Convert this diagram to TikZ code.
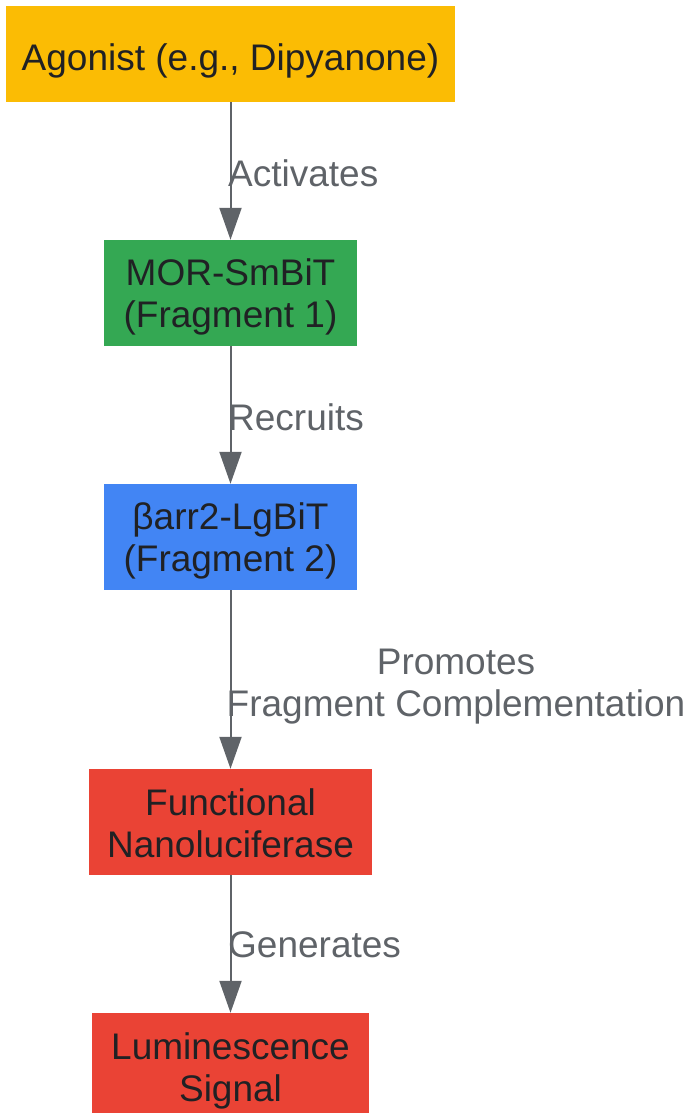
\documentclass[tikz,border=0pt]{standalone}
\usepackage{fontspec}
\setmainfont{Liberation Sans}
\usetikzlibrary{arrows.meta}
\definecolor{cyellow}{HTML}{FBBC04}
\definecolor{cgreen}{HTML}{34A853}
\definecolor{cblue}{HTML}{4285F4}
\definecolor{cred}{HTML}{EA4335}
\definecolor{ctext}{HTML}{202124}
\definecolor{cgray}{HTML}{5F6368}
\begin{document}
\begin{tikzpicture}[x=1pt,y=-1pt,
  box/.style={rectangle, inner sep=0pt},
  txt/.style={inner sep=0pt, align=center, text=ctext, anchor=base,
    font=\fontsize{37}{42}\selectfont},
  lbl/.style={inner sep=0pt, text=cgray, font=\fontsize{37}{42}\selectfont},
  arr/.style={draw=cgray, line width=2pt, -{Triangle[length=32pt,width=22pt]}}]
\useasboundingbox (0,0) rectangle (691,1114);
\node[box, fill=cyellow, minimum width=449pt, minimum height=96pt] (n1) at (230.5,54) {};
\node[box, fill=cgreen, minimum width=253pt, minimum height=106pt] (n2) at (230.5,293) {};
\node[box, fill=cblue, minimum width=253pt, minimum height=106pt] (n3) at (230.5,537) {};
\node[box, fill=cred, minimum width=283pt, minimum height=106pt] (n4) at (230.5,822) {};
\node[box, fill=cred, minimum width=277pt, minimum height=100pt] (n5) at (230.5,1063) {};
\node[txt] (t1) at (230.5,70) {Agonist (e.g., Dipyanone)};
\node[txt] (t2) at (230.5,327) {MOR-SmBiT\\(Fragment 1)};
\node[txt] (t3) at (230.5,571) {βarr2-LgBiT\\(Fragment 2)};
\node[txt] (t4) at (230.5,857) {Functional\\Nanoluciferase};
\node[txt] (t5) at (230.5,1101) {Luminescence\\Signal};
\draw[arr] (n1) -- (n2);
\draw[arr] (n2) -- (n3);
\draw[arr] (n3) -- (n4);
\draw[arr] (n4) -- (n5);
\node[lbl, anchor=west] (l1) at (228,173) {Activates};
\node[lbl, anchor=west] (l2) at (228,417) {Recruits};
\node[lbl, align=center] (l3) at (456,687) {Promotes\\Fragment Complementation};
\node[lbl, anchor=west] (l4) at (228,945) {Generates};
\end{tikzpicture}
\end{document}
